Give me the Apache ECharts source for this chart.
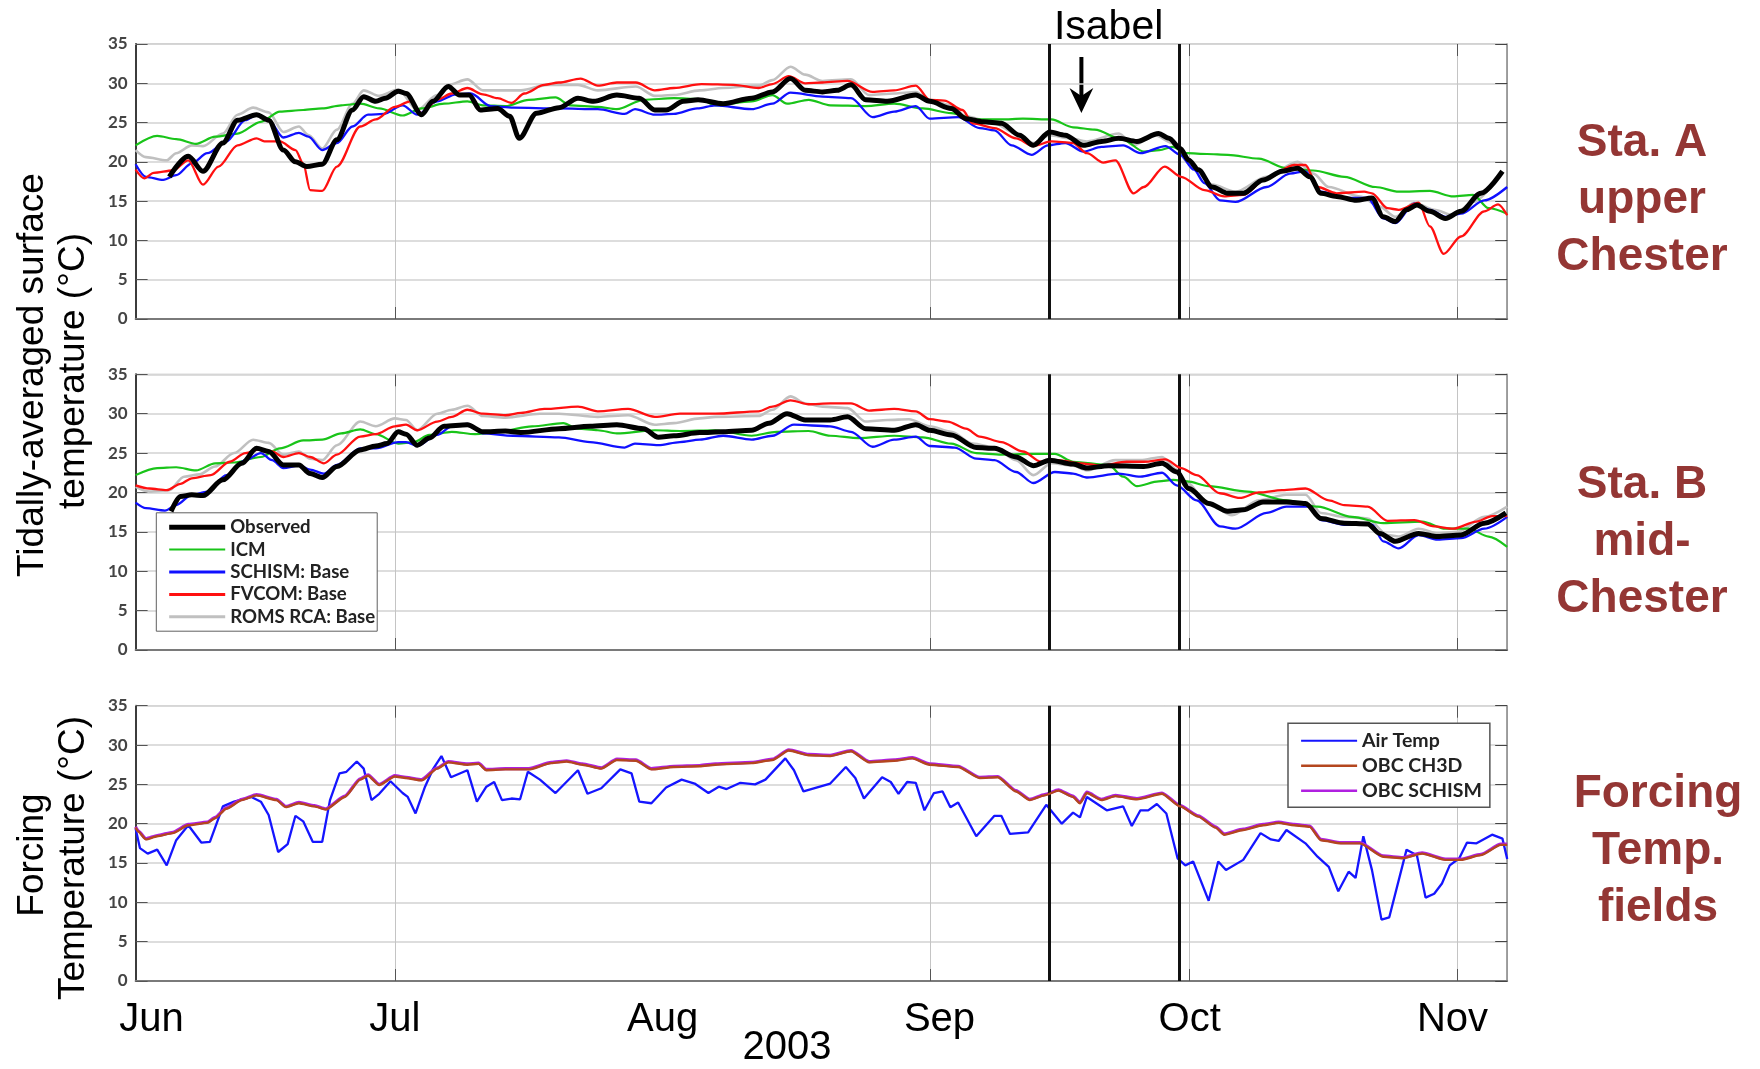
<!DOCTYPE html>
<html>
<head>
<meta charset="utf-8">
<script src="https://cdn.jsdelivr.net/npm/echarts@6/dist/echarts.min.js"></script>
<style>
html,body{margin:0;padding:0;background:#fff;}
#c{width:1760px;height:1069px;}
</style>
</head>
<body>
<div id="c"></div>
<script>
// x values are days since 1 Jun 2003
const monthLabels = ['Jun','Jul','Aug','Sep','Oct','Nov'];
const monthStartDays = [0, 30, 61, 92, 122, 153];
const gridMonthDays = [30, 92, 122, 153];
const eventDays = [105.8, 120.8];
const yTicks = [0, 5, 10, 15, 20, 25, 30, 35];

// Panel 1: Sta. A upper Chester
const obsA = [[3.9,18.1],[6.1,20.7],[7.8,18.8],[10.1,22.4],[11.8,25.3],[14.0,26.0],[15.4,25.3],[17.1,21.5],[18.5,20.0],[19.8,19.4],[21.6,19.7],[23.3,22.8],[25.1,26.6],[26.4,28.3],[27.8,27.7],[28.9,28.1],[30.4,29.0],[31.3,28.7],[33.1,26.0],[34.4,27.7],[36.2,29.6],[37.5,28.5],[38.6,28.5],[39.9,26.6],[41.9,26.8],[43.3,25.8],[44.4,23.0],[46.4,26.2],[49.0,26.9],[51.2,28.1],[53.0,27.7],[55.7,28.5],[58.3,28.1],[60.1,26.6],[61.4,26.6],[63.4,27.7],[65.1,27.9],[68.0,27.4],[71.3,28.1],[73.7,28.9],[75.8,30.6],[77.5,29.1],[79.5,28.9],[81.2,29.1],[82.8,29.8],[84.5,27.9],[87.0,27.7],[90.3,28.5],[91.9,27.7],[94.4,26.8],[96.1,25.5],[98.1,25.1],[100.2,24.9],[102.3,23.4],[103.9,22.1],[105.8,23.8],[107.6,23.4],[109.7,22.1],[111.8,22.6],[113.8,23.0],[115.9,22.6],[118.4,23.6],[119.6,23.0],[120.9,21.7],[121.9,20.2],[123.0,19.0],[124.6,16.8],[126.4,16.0],[128.2,16.0],[130.5,17.7],[132.7,18.8],[134.5,19.2],[135.9,18.1],[137.2,16.0],[139.0,15.6],[141.3,15.1],[143.1,15.4],[144.4,13.0],[145.8,12.4],[147.1,13.9],[148.3,14.5],[149.8,13.7],[151.6,12.8],[153.4,13.7],[155.7,16.0],[158.2,18.8]];
const icmA = [[0,22.1],[2.5,23.3],[4.7,22.9],[7.0,22.3],[9.2,23.2],[11.8,23.6],[14.5,25.1],[16.7,26.4],[19.4,26.6],[21.6,26.8],[23.8,27.2],[26.0,27.4],[28.2,26.8],[30.9,25.9],[33.1,26.8],[35.7,27.4],[38.4,27.7],[40.2,27.2],[42.8,27.1],[45.5,27.9],[48.6,28.2],[50.3,27.2],[53.5,27.0],[55.7,26.7],[58.8,27.9],[62.3,28.1],[65.3,28.0],[67.1,27.2],[71.3,27.7],[73.7,28.5],[75.4,27.4],[77.9,27.9],[80.4,27.2],[84.5,27.1],[87.8,27.4],[91.1,26.8],[94.4,26.2],[97.3,25.4],[100.2,25.4],[102.7,25.5],[106.0,25.4],[108.5,24.4],[111.0,24.1],[114.3,22.8],[116.7,21.3],[118.5,21.5],[120.0,21.9],[121.7,21.1],[124.0,21.0],[126.4,20.9],[130.0,20.4],[133.2,19.2],[136.3,18.9],[139.9,18.1],[143.5,16.8],[146.2,16.2],[149.8,16.3],[152.5,15.6],[154.8,15.8],[156.6,14.1],[158.75,13.4]];
const schA = [[0,19.7],[1.2,18.1],[3.2,17.7],[4.7,18.3],[6.5,19.8],[8.3,21.1],[10.5,22.6],[12.7,25.3],[14.0,26.0],[15.4,25.3],[17.1,23.1],[18.9,23.7],[20.0,23.2],[21.6,21.5],[23.3,22.4],[25.1,24.5],[26.9,26.0],[28.7,26.1],[30.9,27.2],[32.6,26.0],[34.9,27.7],[37.1,28.6],[38.8,28.7],[41.1,27.1],[43.7,26.9],[49.0,26.8],[53.5,26.7],[56.6,26.1],[57.8,26.7],[60.1,26.0],[62.3,26.1],[65.0,26.8],[67.1,27.2],[71.3,26.7],[73.7,27.4],[75.8,28.8],[79.5,28.3],[82.8,28.1],[85.3,25.7],[87.8,26.4],[90.3,27.1],[91.9,25.5],[95.2,25.7],[97.7,24.3],[99.4,24.0],[101.4,22.1],[103.7,20.9],[105.6,22.1],[107.6,22.4],[109.7,21.3],[111.8,21.9],[114.3,22.1],[116.3,21.1],[119.2,22.0],[120.9,20.9],[122.5,19.0],[123.7,17.3],[125.5,15.1],[127.3,14.9],[130.9,16.8],[133.6,18.5],[135.4,18.8],[137.2,16.2],[139.9,15.4],[142.6,15.4],[144.4,12.8],[145.8,12.2],[148.0,14.7],[149.8,13.9],[151.6,13.0],[153.4,13.4],[156.1,15.1],[158.75,16.8]];
const fvA = [[0,19.0],[1.0,17.9],[2.1,18.6],[4.3,18.9],[6.1,20.2],[7.8,17.1],[9.6,19.4],[11.8,22.1],[14.0,23.0],[14.9,22.6],[16.7,22.6],[18.5,21.5],[19.4,19.8],[20.2,16.4],[21.6,16.3],[23.3,19.4],[26.0,24.5],[27.8,25.4],[30.0,27.0],[31.8,27.7],[33.1,26.2],[34.9,27.9],[36.6,28.7],[38.4,29.4],[40.2,28.6],[41.9,28.1],[43.5,27.5],[45.0,28.7],[47.3,29.8],[49.0,30.1],[51.5,30.6],[53.5,29.7],[55.7,30.1],[57.9,30.1],[60.1,29.1],[62.3,29.4],[65.5,29.9],[69.2,29.8],[72.1,29.4],[73.7,29.9],[75.6,30.9],[77.5,30.0],[79.5,30.1],[82.4,30.3],[85.3,28.9],[87.8,29.1],[90.3,29.7],[91.9,27.9],[93.6,27.8],[95.7,26.6],[96.9,24.9],[99.4,24.3],[101.9,23.0],[103.9,22.0],[106.0,22.6],[108.5,22.4],[110.1,21.1],[112.0,19.9],[113.4,20.2],[115.5,16.0],[116.7,16.8],[119.1,19.4],[121.0,18.1],[123.7,16.4],[126.0,15.6],[128.2,15.8],[130.9,17.9],[134.1,19.6],[135.4,19.6],[136.8,16.8],[139.0,16.0],[142.2,16.2],[143.1,16.0],[144.9,14.1],[146.2,13.9],[148.5,14.8],[149.8,11.8],[151.4,8.3],[153.4,10.5],[156.1,13.7],[157.7,14.6],[158.75,13.2]];
const romsA = [[0,21.5],[1.2,20.6],[3.6,20.2],[4.7,21.1],[6.5,22.1],[7.8,22.0],[10.1,23.6],[11.8,26.0],[13.6,26.9],[15.4,26.3],[17.1,23.8],[18.9,24.5],[20.0,23.4],[21.6,21.7],[23.3,24.1],[25.1,27.4],[26.4,29.1],[28.2,28.4],[30.4,29.2],[32.6,26.6],[34.9,28.5],[36.2,29.8],[38.4,30.5],[40.2,29.1],[44.6,29.1],[47.7,29.8],[51.2,29.8],[53.5,29.1],[57.9,29.6],[60.1,28.4],[62.3,28.5],[65.3,29.1],[68.0,29.4],[72.1,29.7],[73.7,30.4],[75.8,32.1],[77.5,31.1],[79.5,30.3],[82.8,30.5],[84.9,28.5],[87.8,28.7],[90.3,28.9],[91.9,27.9],[94.4,27.2],[96.1,25.8],[99.4,24.9],[101.9,23.6],[103.9,22.4],[105.8,23.4],[108.1,23.0],[110.1,22.6],[113.8,23.6],[115.5,22.1],[118.0,23.4],[120.0,22.4],[121.9,19.8],[124.6,17.1],[127.3,16.2],[130.9,18.1],[134.5,20.0],[136.3,18.5],[138.1,16.8],[141.7,15.6],[144.0,14.3],[145.8,13.0],[148.0,14.8],[150.3,13.9],[152.5,13.2],[154.8,14.9],[157.9,18.3]];

// Panel 2: Sta. B mid-Chester
const obsB = [[4.1,17.6],[5.2,19.5],[6.5,19.7],[7.8,19.6],[10.1,21.6],[12.3,23.7],[14.0,25.6],[15.4,25.2],[17.1,23.5],[18.9,23.5],[20.2,22.4],[21.6,21.9],[23.3,23.3],[26.0,25.4],[27.8,25.9],[29.1,26.2],[30.4,27.7],[31.3,27.4],[32.6,26.0],[34.0,26.9],[35.7,28.4],[38.4,28.6],[40.2,27.7],[42.8,27.8],[44.6,27.6],[49.0,28.1],[52.6,28.4],[55.7,28.6],[58.8,28.1],[60.5,27.0],[62.3,27.2],[65.3,27.6],[68.0,27.7],[71.3,27.9],[73.3,28.8],[75.4,30.0],[77.5,29.2],[80.4,29.2],[82.4,29.6],[84.5,28.1],[87.8,27.9],[90.3,28.6],[91.9,27.9],[94.4,27.3],[97.3,25.7],[99.4,25.6],[101.9,24.5],[103.9,23.4],[105.8,24.1],[108.5,23.6],[110.1,23.1],[112.6,23.4],[116.7,23.3],[118.8,23.7],[120.5,22.6],[121.9,20.5],[124.2,18.6],[126.4,17.6],[128.2,17.8],[130.5,18.8],[133.2,18.8],[135.4,18.6],[137.2,16.7],[139.9,16.1],[142.6,16.0],[144.0,14.8],[145.8,13.8],[148.5,14.8],[150.7,14.4],[153.4,14.6],[156.1,16.1],[158.6,17.4]];
const icmB = [[0,22.2],[2.5,23.1],[4.7,23.2],[7.0,22.8],[9.2,23.7],[11.4,23.8],[14.5,24.5],[16.7,25.6],[19.4,26.6],[21.6,26.7],[23.8,27.5],[26.0,28.0],[27.8,27.4],[30.4,26.2],[32.2,26.4],[34.0,27.3],[36.6,27.7],[39.3,27.4],[41.9,27.7],[45.9,28.4],[49.5,28.8],[51.2,28.1],[53.5,27.9],[55.7,27.5],[60.1,27.9],[63.0,27.8],[67.1,27.9],[71.3,27.2],[74.2,27.7],[77.9,27.8],[80.4,27.2],[83.7,26.9],[87.8,27.2],[91.1,27.0],[94.4,26.2],[97.3,25.0],[100.2,24.8],[103.5,24.9],[106.4,24.9],[108.5,23.9],[112.6,23.5],[114.3,22.0],[115.9,20.8],[118.4,21.4],[120.1,21.6],[121.7,21.4],[124.2,20.8],[128.7,20.1],[133.2,19.0],[136.8,18.2],[140.8,16.9],[144.4,16.1],[148.9,16.3],[151.6,15.4],[154.3,15.4],[156.6,14.4],[158.75,13.1]];
const schB = [[0,18.7],[1.2,18.0],[3.4,17.7],[4.7,18.4],[6.5,19.7],[8.3,20.1],[10.5,22.2],[12.7,24.1],[14.5,25.0],[15.8,24.1],[17.1,23.1],[18.9,23.4],[20.2,22.9],[21.8,22.4],[23.3,23.5],[26.0,25.6],[27.8,25.6],[30.4,26.4],[31.3,26.4],[32.6,25.9],[34.9,27.3],[36.6,28.4],[38.4,28.7],[40.2,27.5],[43.7,27.2],[49.0,27.0],[52.6,26.4],[56.6,25.7],[57.8,26.2],[60.5,26.0],[63.0,26.4],[65.3,26.7],[68.0,27.2],[71.3,26.7],[73.7,27.2],[76.2,28.6],[80.4,28.4],[82.8,27.7],[85.3,25.8],[87.8,26.7],[90.3,27.1],[91.9,25.9],[94.8,25.7],[97.3,24.3],[99.4,24.1],[101.9,22.6],[103.9,21.2],[106.4,22.6],[108.5,22.4],[110.1,21.9],[113.8,22.4],[116.3,22.0],[118.8,22.5],[120.5,20.9],[122.8,19.0],[125.5,15.7],[127.3,15.4],[130.9,17.4],[133.2,18.2],[135.9,18.2],[137.2,16.5],[139.9,15.9],[143.1,15.9],[144.4,13.8],[146.2,12.9],[148.5,14.6],[150.7,14.0],[153.4,14.2],[156.1,15.4],[158.75,16.9]];
const fvB = [[0,20.9],[1.6,20.5],[3.6,20.3],[5.2,21.1],[6.5,21.8],[8.7,22.2],[10.9,23.9],[12.7,25.0],[14.5,25.5],[15.8,25.2],[17.1,24.5],[18.9,25.0],[20.2,24.5],[21.8,23.7],[23.3,24.8],[26.0,27.1],[27.8,27.4],[30.0,28.4],[31.3,28.6],[32.6,27.9],[34.9,29.0],[36.6,29.6],[38.4,30.5],[40.2,30.0],[42.8,29.8],[44.6,30.1],[47.3,30.6],[51.2,30.9],[53.5,30.3],[57.0,30.6],[60.1,29.6],[63.0,30.0],[67.1,30.0],[72.1,30.3],[73.7,30.9],[75.8,31.7],[77.9,31.2],[80.4,31.3],[82.8,31.3],[84.9,30.4],[87.8,30.6],[90.3,30.3],[91.9,29.3],[94.0,29.0],[96.1,28.1],[97.7,27.1],[100.2,26.4],[102.7,25.2],[104.8,23.9],[106.8,24.1],[109.3,23.7],[111.8,23.4],[114.7,23.9],[116.7,23.9],[119.2,24.2],[121.0,23.1],[122.8,22.2],[125.5,19.9],[127.8,19.3],[130.0,20.0],[132.7,20.3],[135.4,20.5],[138.1,19.0],[139.9,18.4],[142.6,18.2],[144.9,16.4],[148.0,16.5],[150.3,15.7],[152.5,15.4],[155.2,16.3],[157.0,17.0],[158.75,17.0]];
const romsB = [[0,20.7],[1.6,20.1],[3.9,20.3],[5.6,22.0],[7.4,22.3],[9.2,23.3],[11.4,25.0],[13.6,26.7],[15.4,26.3],[17.1,24.8],[18.9,25.2],[20.2,24.3],[21.6,24.1],[23.3,26.0],[26.0,29.0],[27.8,28.4],[30.0,29.4],[31.3,29.2],[32.6,27.9],[34.9,30.0],[36.6,30.5],[38.4,31.0],[40.2,29.7],[42.8,29.5],[46.8,30.0],[49.0,30.0],[53.5,29.6],[57.0,29.8],[60.1,28.6],[62.3,28.8],[65.3,29.4],[67.1,29.6],[72.1,29.7],[73.7,30.5],[75.8,32.2],[77.5,31.3],[79.5,30.9],[82.4,30.7],[84.5,29.0],[87.0,29.2],[89.5,29.3],[91.9,28.4],[94.4,27.7],[96.9,26.2],[99.4,25.7],[101.9,24.1],[103.9,22.2],[106.0,23.7],[108.5,23.4],[110.1,22.8],[113.4,24.1],[116.3,24.1],[118.8,24.5],[120.5,22.9],[121.5,21.4],[124.2,18.6],[126.9,17.1],[130.0,19.0],[133.2,19.7],[135.4,19.7],[137.2,17.4],[139.9,16.9],[142.6,16.7],[144.9,14.6],[146.2,14.4],[148.5,15.4],[150.7,14.8],[153.0,15.0],[156.1,16.9],[158.75,18.2]];

// Panel 3: forcing temperature fields
const airTemp = [[0,19.4],[0.5,16.9],[1.4,16.2],[2.5,16.7],[3.6,14.7],[4.7,17.9],[6.1,19.8],[7.6,17.6],[8.6,17.7],[10.1,22.2],[11.4,22.8],[13.4,23.4],[14.5,22.8],[15.4,21.1],[16.5,16.4],[17.6,17.4],[18.5,21.0],[19.4,20.3],[20.5,17.7],[21.6,17.7],[22.5,23.0],[23.6,26.4],[24.4,26.6],[25.6,27.9],[26.4,27.0],[27.3,23.0],[28.2,23.8],[29.5,25.4],[30.9,23.9],[31.5,23.4],[32.4,21.3],[33.5,24.7],[34.4,26.9],[35.4,28.6],[36.5,25.9],[38.4,26.8],[39.5,22.8],[40.6,24.7],[41.5,25.3],[42.4,23.0],[43.5,23.2],[44.5,23.1],[45.4,26.6],[46.8,25.6],[48.6,23.9],[51.2,26.8],[52.3,23.8],[53.9,24.5],[56.1,26.9],[57.4,26.4],[58.3,22.8],[59.7,22.6],[61.4,24.6],[63.2,25.6],[64.7,25.1],[66.3,23.9],[67.5,24.7],[68.4,24.4],[70.0,25.2],[71.7,25.0],[72.9,25.6],[75.2,28.3],[76.2,26.8],[77.3,24.1],[80.4,25.1],[82.2,27.2],[83.3,25.8],[84.3,23.2],[86.4,25.9],[87.4,25.3],[88.3,23.8],[89.3,25.3],[90.3,25.2],[91.3,21.7],[92.4,23.9],[93.4,24.1],[94.3,22.1],[95.2,22.7],[97.3,18.4],[99.4,21.0],[100.2,21.0],[101.2,18.7],[103.3,18.9],[105.4,22.4],[107.2,20.0],[108.5,21.4],[109.3,20.8],[110.1,23.4],[112.4,21.7],[114.3,22.2],[115.3,19.7],[116.3,21.7],[117.2,21.7],[118.2,22.5],[119.3,21.3],[120.6,15.6],[121.5,14.7],[122.4,15.2],[124.2,10.2],[125.3,15.2],[126.2,14.1],[128.2,15.4],[130.2,18.8],[131.4,18.0],[132.3,17.8],[133.2,19.2],[135.4,17.5],[136.8,15.8],[138.1,14.5],[139.2,11.4],[140.4,13.9],[141.2,13.1],[142.1,18.4],[143.1,14.1],[144.2,7.8],[145.1,8.1],[147.1,16.7],[148.3,16.0],[149.3,10.6],[150.3,11.1],[151.2,12.4],[152.1,14.7],[153.2,15.6],[154.1,17.6],[155.2,17.5],[157.0,18.6],[158.2,18.1],[158.75,15.5]];
const obcCh3d = [[0,19.5],[0.3,19.0],[1.2,18.0],[2.5,18.4],[4.3,18.8],[6.1,19.8],[8.3,20.1],[9.2,20.7],[10.5,21.9],[12.3,23.0],[14.0,23.6],[16.3,23.0],[17.4,22.1],[18.9,22.6],[20.7,22.2],[22.0,21.8],[24.2,23.4],[26.0,25.6],[26.9,26.1],[28.2,24.9],[30.0,26.0],[31.3,25.8],[33.1,25.5],[34.9,27.0],[36.2,27.8],[38.4,27.5],[39.7,27.6],[40.6,26.8],[42.8,26.9],[45.5,26.9],[48.1,27.7],[49.9,27.9],[51.7,27.5],[53.9,27.0],[55.7,28.1],[57.9,28.0],[59.7,26.9],[62.3,27.2],[65.3,27.3],[67.1,27.5],[71.3,27.7],[73.7,28.1],[75.6,29.3],[77.9,28.7],[80.4,28.6],[82.8,29.2],[84.9,27.8],[87.8,28.0],[89.9,28.3],[91.9,27.5],[95.2,27.2],[97.7,25.8],[99.8,25.9],[101.9,24.1],[103.5,23.0],[105.2,23.6],[106.8,24.2],[108.5,23.4],[109.3,22.6],[110.1,23.9],[111.8,23.0],[113.4,23.5],[115.9,23.1],[118.8,23.8],[120.9,22.2],[123.0,20.9],[125.0,19.5],[126.0,18.6],[128.2,19.2],[130.5,19.8],[132.3,20.1],[134.1,19.8],[135.9,19.6],[137.2,17.9],[139.5,17.5],[141.7,17.5],[144.4,15.8],[146.7,15.6],[148.9,16.2],[151.6,15.4],[153.4,15.4],[155.7,16.0],[158.0,17.3],[158.75,17.3]];
const obcSchism = [[0,19.6],[0.3,19.1],[1.2,18.1],[2.5,18.5],[4.3,18.9],[6.1,19.9],[8.3,20.2],[9.2,20.8],[10.5,22.0],[12.3,23.1],[14.0,23.7],[16.3,23.1],[17.4,22.2],[18.9,22.7],[20.7,22.3],[22.0,21.9],[24.2,23.5],[26.0,25.7],[26.9,26.2],[28.2,25.0],[30.0,26.1],[31.3,25.9],[33.1,25.6],[34.9,27.1],[36.2,27.9],[38.4,27.6],[39.7,27.7],[40.6,26.9],[42.8,27.0],[45.5,27.0],[48.1,27.8],[49.9,28.0],[51.7,27.6],[53.9,27.1],[55.7,28.2],[57.9,28.1],[59.7,27.0],[62.3,27.3],[65.3,27.4],[67.1,27.6],[71.3,27.8],[73.7,28.2],[75.6,29.4],[77.9,28.8],[80.4,28.7],[82.8,29.3],[84.9,27.9],[87.8,28.1],[89.9,28.4],[91.9,27.6],[95.2,27.3],[97.7,25.9],[99.8,26.0],[101.9,24.2],[103.5,23.1],[105.2,23.7],[106.8,24.3],[108.5,23.5],[109.3,22.7],[110.1,24.0],[111.8,23.1],[113.4,23.6],[115.9,23.2],[118.8,23.9],[120.9,22.3],[123.0,21.0],[125.0,19.6],[126.0,18.7],[128.2,19.3],[130.5,19.9],[132.3,20.2],[134.1,19.9],[135.9,19.7],[137.2,18.0],[139.5,17.6],[141.7,17.6],[144.4,15.9],[146.7,15.7],[148.9,16.3],[151.6,15.5],[153.4,15.5],[155.7,16.1],[158.0,17.4],[158.75,17.4]];

const X_MAX = 158.75;
const chart = echarts.init(document.getElementById('c'), null, {renderer:'canvas'});

const gridsPos = [
  {top: 44, height: 275},
  {top: 374.3, height: 275.7},
  {top: 705.7, height: 275.3}
];
const grids = gridsPos.map(g => ({
  left: 135.6, width: 1371.6, top: g.top, height: g.height,
  show: true, borderColor: '#a8a8a8', borderWidth: 1, backgroundColor: 'transparent',
  containLabel: false, outerBoundsMode: 'none'
}));

const richMonth = {};
const monthPad = [[0,0,0,32],[0,0,0,0],[0,0,0,0],[0,0,0,18],[0,0,0,0],[0,10,0,0]];
monthLabels.forEach((m, i) => {
  richMonth['m' + i] = {fontSize: 40, fontFamily: 'Liberation Sans, Arial, sans-serif', color: '#000', padding: monthPad[i]};
});

const xAxes = [];
for (let i = 0; i < 3; i++) {
  xAxes.push({
    type: 'value', gridIndex: i, min: 0, max: X_MAX, position: 'bottom',
    axisLine: {show: true, onZero: false, lineStyle: {color: '#7a7a7a', width: 2}},
    axisTick: {show: true, inside: true, length: 12, customValues: gridMonthDays, lineStyle: {color: '#555', width: 1}},
    axisLabel: i === 2 ? {
      show: true, customValues: monthStartDays, margin: 19, showMinLabel: true, showMaxLabel: true,
      alignMinLabel: 'center', hideOverlap: false,
      formatter: v => { const k = monthStartDays.indexOf(Math.round(v)); return k < 0 ? '' : '{m' + k + '|' + monthLabels[k] + '}'; },
      rich: richMonth
    } : {show: false},
    splitLine: {show: true, lineStyle: {color: '#c4c4c4', width: 1}}
  });
}
for (let i = 0; i < 3; i++) {
  xAxes.push({
    type: 'value', gridIndex: i, min: 0, max: X_MAX, position: 'top',
    axisLine: {show: true, onZero: false, lineStyle: {color: '#d6d6d6', width: 1}},
    axisTick: {show: true, inside: true, length: 12, customValues: gridMonthDays, lineStyle: {color: '#555', width: 1}},
    axisLabel: {show: false}, splitLine: {show: false}
  });
}
const yAxes = [];
for (let i = 0; i < 3; i++) {
  yAxes.push({
    type: 'value', gridIndex: i, min: 0, max: 35, interval: 5, position: 'left',
    axisLine: {show: true, onZero: false, lineStyle: {color: '#3c3c3c', width: 2}},
    axisTick: {show: true, inside: true, length: 12, lineStyle: {color: '#555', width: 1}},
    axisLabel: {show: true, margin: 8, fontSize: 17, fontWeight: 'bold', fontFamily: 'Lato, sans-serif', color: '#444',
      showMinLabel: true, showMaxLabel: true},
    splitLine: {show: true, lineStyle: {color: '#d2d2d2', width: 1.5}}
  });
}
for (let i = 0; i < 3; i++) {
  yAxes.push({
    type: 'value', gridIndex: i, min: 0, max: 35, interval: 5, position: 'right',
    axisLine: {show: true, onZero: false, lineStyle: {color: '#8c8c8c', width: 1.5}},
    axisTick: {show: true, inside: true, length: 12, lineStyle: {color: '#444', width: 1}},
    axisLabel: {show: false}, splitLine: {show: false}
  });
}

function lineSeries(name, data, color, width, gi, smooth, z) {
  return {
    type: 'line', name: name, data: data, xAxisIndex: gi, yAxisIndex: gi,
    symbol: 'none', showSymbol: false, smooth: smooth, smoothMonotone: 'x',
    lineStyle: {color: color, width: width}, itemStyle: {color: color},
    z: z, animation: false, clip: true, emphasis: {disabled: true}
  };
}
function eventMarks() {
  return {
    silent: true, symbol: ['none', 'none'], label: {show: false},
    lineStyle: {color: '#111', width: 3, type: 'solid'},
    data: eventDays.map(d => ({xAxis: d})), animation: false
  };
}

const C = {obs: '#000000', icm: '#19c419', sch: '#1010ff', fv: '#ff1010', roms: '#c0c0c0'};
const series = [];
const sets = [[obsA, icmA, schA, fvA, romsA], [obsB, icmB, schB, fvB, romsB]];
sets.forEach((s, gi) => {
  series.push(lineSeries('ROMS RCA: Base', s[4], C.roms, 2.6, gi, 0.3, 2));
  series.push(lineSeries('ICM', s[1], C.icm, 2.2, gi, 0.3, 3));
  series.push(lineSeries('SCHISM: Base', s[2], C.sch, 2.3, gi, 0.3, 4));
  series.push(lineSeries('FVCOM: Base', s[3], C.fv, 2.3, gi, 0.3, 5));
  const o = lineSeries('Observed', s[0], C.obs, 5, gi, 0.3, 6);
  o.markLine = eventMarks();
  series.push(o);
});
series.push(lineSeries('Air Temp', airTemp, '#1515ff', 2.3, 2, false, 3));
series.push(lineSeries('OBC SCHISM', obcSchism, '#b020e0', 3.2, 2, 0.2, 4));
const ch = lineSeries('OBC CH3D', obcCh3d, '#b4461e', 2.4, 2, 0.2, 5);
ch.markLine = eventMarks();
series.push(ch);

const legendFont = 'Lato, sans-serif';
const hiddenSymbol = {opacity: 0, color: 'rgba(0,0,0,0)', borderWidth: 0};
const option = {
  backgroundColor: '#ffffff',
  animation: false,
  grid: grids,
  xAxis: xAxes,
  yAxis: yAxes,
  legend: [
    {
      orient: 'vertical', left: 156.3, top: 512.8,
      padding: [4.4, 2, 4.4, 10.4], itemGap: 2.4, itemWidth: 56, itemHeight: 12,
      backgroundColor: '#fff', borderColor: '#606060', borderWidth: 1, borderRadius: 0,
      selectedMode: false, itemStyle: hiddenSymbol,
      textStyle: {fontFamily: legendFont, fontWeight: 'bold', fontSize: 18.6, color: '#222', lineHeight: 20},
      data: [
        {name: 'Observed', lineStyle: {width: 5}, itemStyle: hiddenSymbol},
        {name: 'ICM', lineStyle: {width: 2}, itemStyle: hiddenSymbol},
        {name: 'SCHISM: Base', lineStyle: {width: 3}, itemStyle: hiddenSymbol},
        {name: 'FVCOM: Base', lineStyle: {width: 3}, itemStyle: hiddenSymbol},
        {name: 'ROMS RCA: Base', lineStyle: {width: 3}, itemStyle: hiddenSymbol}
      ]
    },
    {
      orient: 'vertical', left: 1288, top: 723.3,
      padding: [6.4, 8, 5.6, 11.8], itemGap: 3, itemWidth: 56, itemHeight: 12,
      backgroundColor: '#fff', borderColor: '#555', borderWidth: 1.5, borderRadius: 0,
      selectedMode: false, itemStyle: hiddenSymbol,
      textStyle: {fontFamily: legendFont, fontWeight: 'bold', fontSize: 19.5, color: '#222', lineHeight: 22},
      data: [
        {name: 'Air Temp', lineStyle: {width: 2}, itemStyle: hiddenSymbol},
        {name: 'OBC CH3D', lineStyle: {width: 2.6}, itemStyle: hiddenSymbol},
        {name: 'OBC SCHISM', lineStyle: {width: 2.6}, itemStyle: hiddenSymbol}
      ]
    }
  ],
  graphic: [
    {type: 'text', x: 33, y: 375, rotation: Math.PI / 2,
      style: {text: 'Tidally-averaged surface', fontSize: 37, fontFamily: 'Liberation Sans, Arial, sans-serif', fill: '#000',
        textAlign: 'center', textVerticalAlign: 'middle', align: 'center', verticalAlign: 'middle'}},
    {type: 'text', x: 74, y: 371, rotation: Math.PI / 2,
      style: {text: 'temperature (°C)', fontSize: 37, fontFamily: 'Liberation Sans, Arial, sans-serif', fill: '#000',
        textAlign: 'center', textVerticalAlign: 'middle', align: 'center', verticalAlign: 'middle'}},
    {type: 'text', x: 33, y: 855, rotation: Math.PI / 2,
      style: {text: 'Forcing', fontSize: 37, fontFamily: 'Liberation Sans, Arial, sans-serif', fill: '#000',
        textAlign: 'center', textVerticalAlign: 'middle', align: 'center', verticalAlign: 'middle'}},
    {type: 'text', x: 74, y: 858, rotation: Math.PI / 2,
      style: {text: 'Temperature (°C)', fontSize: 37, fontFamily: 'Liberation Sans, Arial, sans-serif', fill: '#000',
        textAlign: 'center', textVerticalAlign: 'middle', align: 'center', verticalAlign: 'middle'}},
    {type: 'text', x: 1642, y: 200.5,
      style: {text: 'Sta. A\nupper\nChester', fontSize: 46, fontWeight: 'bold', lineHeight: 57, fontFamily: 'Liberation Sans, Arial, sans-serif', fill: '#943634',
        textAlign: 'center', textVerticalAlign: 'middle', align: 'center', verticalAlign: 'middle'}},
    {type: 'text', x: 1642, y: 542,
      style: {text: 'Sta. B\nmid-\nChester', fontSize: 46, fontWeight: 'bold', lineHeight: 57, fontFamily: 'Liberation Sans, Arial, sans-serif', fill: '#943634',
        textAlign: 'center', textVerticalAlign: 'middle', align: 'center', verticalAlign: 'middle'}},
    {type: 'text', x: 1658, y: 851,
      style: {text: 'Forcing\nTemp.\nfields', fontSize: 46, fontWeight: 'bold', lineHeight: 57, fontFamily: 'Liberation Sans, Arial, sans-serif', fill: '#943634',
        textAlign: 'center', textVerticalAlign: 'middle', align: 'center', verticalAlign: 'middle'}},
    {type: 'text', x: 1108.6, y: 27.5,
      style: {text: 'Isabel', fontSize: 41, fontFamily: 'Liberation Sans, Arial, sans-serif', fill: '#000',
        textAlign: 'center', textVerticalAlign: 'middle', align: 'center', verticalAlign: 'middle'}},
    {type: 'line', shape: {x1: 1081.4, y1: 57, x2: 1081.4, y2: 100}, style: {stroke: '#000', lineWidth: 4}},
    {type: 'polygon', shape: {points: [[1069.5, 88], [1081.4, 113], [1093.3, 88], [1081.4, 96]]}, style: {fill: '#000'}},
    {type: 'text', x: 787, y: 1048,
      style: {text: '2003', fontSize: 40, fontFamily: 'Liberation Sans, Arial, sans-serif', fill: '#000',
        textAlign: 'center', textVerticalAlign: 'middle', align: 'center', verticalAlign: 'middle'}}
  ],
  series: series
};
chart.setOption(option);
</script>
</body>
</html>
